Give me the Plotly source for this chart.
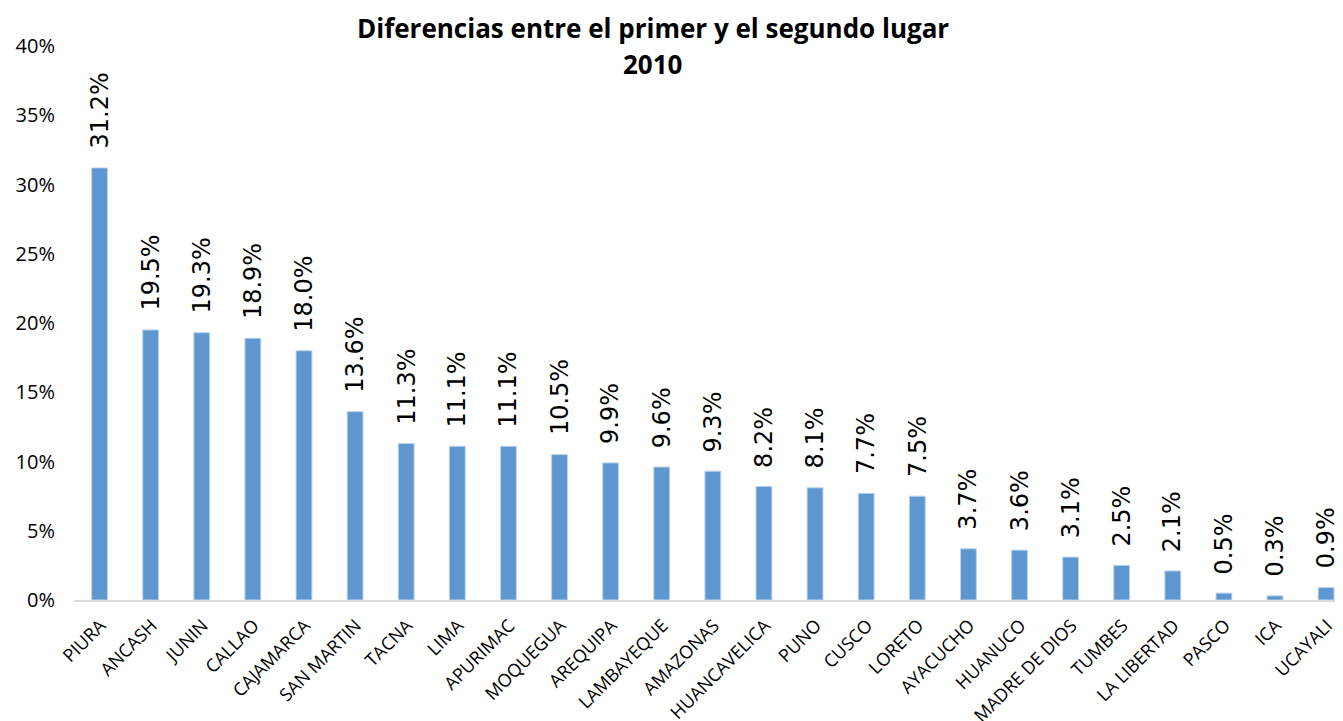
import plotly.graph_objects as go

categories = ["PIURA", "ANCASH", "JUNIN", "CALLAO", "CAJAMARCA", "SAN MARTIN", "TACNA",
              "LIMA", "APURIMAC", "MOQUEGUA", "AREQUIPA", "LAMBAYEQUE", "AMAZONAS",
              "HUANCAVELICA", "PUNO", "CUSCO", "LORETO", "AYACUCHO", "HUANUCO",
              "MADRE DE DIOS", "TUMBES", "LA LIBERTAD", "PASCO", "ICA", "UCAYALI"]
values_pct = [31.2, 19.5, 19.3, 18.9, 18.0, 13.6, 11.3, 11.1, 11.1, 10.5, 9.9, 9.6, 9.3,
              8.2, 8.1, 7.7, 7.5, 3.7, 3.6, 3.1, 2.5, 2.1, 0.5, 0.3, 0.9]
title_lines = ["Diferencias entre el primer y el segundo lugar", "2010"]

values = [v / 100 for v in values_pct]
labels = [f"{v:.1f}%" for v in values_pct]

fig = go.Figure()
fig.add_trace(go.Bar(
    x=list(range(len(categories))), y=values,
    width=0.31,
    marker=dict(color="#5E97CF", line=dict(color="#BCD3EC", width=1)),
    hoverinfo="skip",
))

for i, (v, t) in enumerate(zip(values, labels)):
    fig.add_annotation(x=i, y=v, text=t, textangle=-90, showarrow=False,
                       xanchor="center", yanchor="bottom", yshift=17,
                       font=dict(family="DejaVu Sans", size=24, color="#000000"))

fig.add_annotation(text="<b>" + title_lines[0] + "</b>", xref="paper", yref="paper",
                   x=0.456, y=1.0325, xanchor="center", yanchor="middle", showarrow=False,
                   font=dict(family="Open Sans", size=26, color="#000000"))
fig.add_annotation(text="<b>" + title_lines[1] + "</b>", xref="paper", yref="paper",
                   x=0.456, y=0.9675, xanchor="center", yanchor="middle", showarrow=False,
                   font=dict(family="Open Sans", size=26, color="#000000"))

fig.update_layout(
    width=1335, height=713,
    margin=dict(l=66, r=0, t=38, b=121, autoexpand=False),
    plot_bgcolor="white", paper_bgcolor="white",
    showlegend=False,
    xaxis=dict(
        tickmode="array", tickvals=list(range(len(categories))), ticktext=categories,
        range=[-0.5, 24.33], tickangle=-45, showgrid=False, zeroline=False,
        showline=True, linecolor="#D9D9D9", linewidth=2, automargin=False,
        ticks="", ticklabelstandoff=6, ticklabelshift=1,
        tickfont=dict(family="Open Sans", size=18, color="#000000"),
    ),
    yaxis=dict(
        range=[0, 0.40], dtick=0.05, tickformat=".0%", showgrid=False,
        zeroline=False, showline=False, ticks="", automargin=False,
        ticklabelstandoff=18,
        tickfont=dict(family="Open Sans", size=20, color="#000000"),
    ),
)

fig.write_html("out.html")
